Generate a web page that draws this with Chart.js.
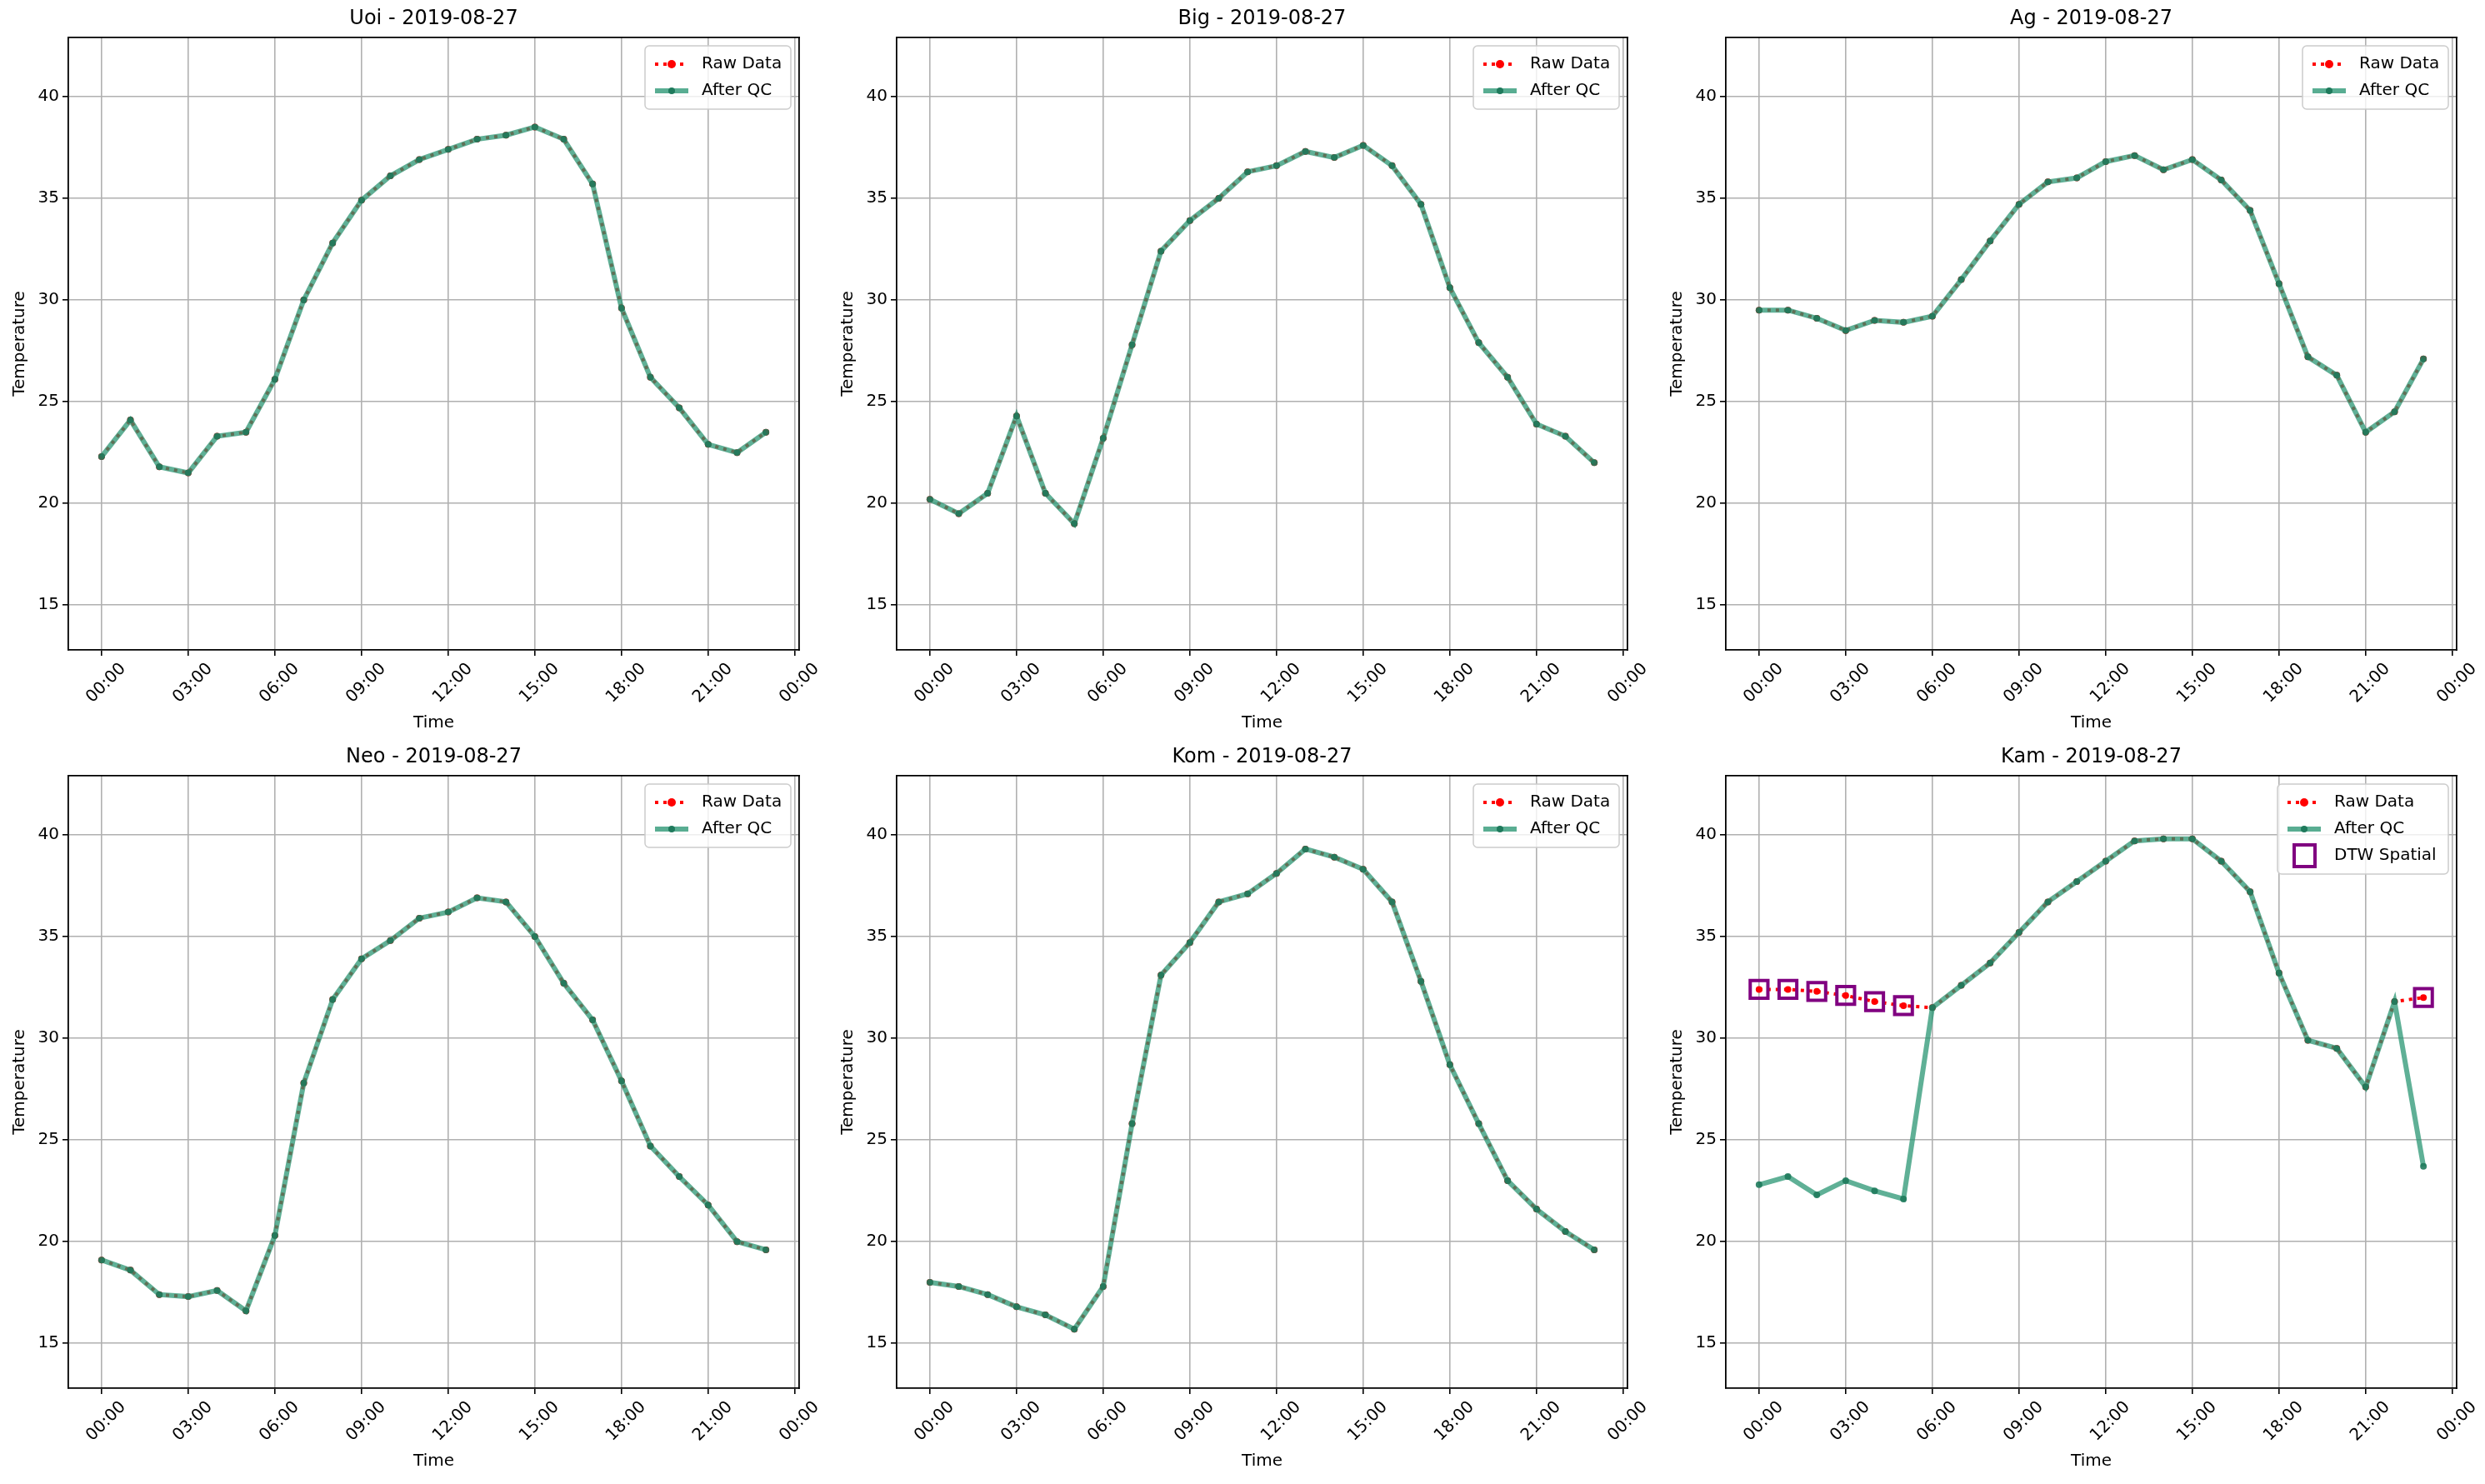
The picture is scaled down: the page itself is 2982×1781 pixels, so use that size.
<!DOCTYPE html>
<html>
<head>
<meta charset="utf-8">
<script src="https://cdn.jsdelivr.net/npm/chart.js@4.4.0/dist/chart.umd.min.js"></script>
<style>
  body { margin: 0; background: #fff; }
  #fig { position: relative; width: 2982px; height: 1781px; }
  .cell { position: absolute; width: 994px; height: 890px; }
</style>
</head>
<body>
<div id="fig"></div>
<script>
const hours = [0,1,2,3,4,5,6,7,8,9,10,11,12,13,14,15,16,17,18,19,20,21,22,23];
const stations = ['Uoi', 'Big', 'Ag', 'Neo', 'Kom', 'Kam'];
const dateLabel = '2019-08-27';
const xTicks = [0,3,6,9,12,15,18,21,24];
const yTicks = [15,20,25,30,35,40];

const uoiRaw = [22.3,24.1,21.8,21.5,23.3,23.5,26.1,30.0,32.8,34.9,36.1,36.9,37.4,37.9,38.1,38.5,37.9,35.7,29.6,26.2,24.7,22.9,22.5,23.5];
const bigRaw = [20.2,19.5,20.5,24.3,20.5,19.0,23.2,27.8,32.4,33.9,35.0,36.3,36.6,37.3,37.0,37.6,36.6,34.7,30.6,27.9,26.2,23.9,23.3,22.0];
const agRaw  = [29.5,29.5,29.1,28.5,29.0,28.9,29.2,31.0,32.9,34.7,35.8,36.0,36.8,37.1,36.4,36.9,35.9,34.4,30.8,27.2,26.3,23.5,24.5,27.1];
const neoRaw = [19.1,18.6,17.4,17.3,17.6,16.6,20.3,27.8,31.9,33.9,34.8,35.9,36.2,36.9,36.7,35.0,32.7,30.9,27.9,24.7,23.2,21.8,20.0,19.6];
const komRaw = [18.0,17.8,17.4,16.8,16.4,15.7,17.8,25.8,33.1,34.7,36.7,37.1,38.1,39.3,38.9,38.3,36.7,32.8,28.7,25.8,23.0,21.6,20.5,19.6];
const kamRaw = [32.4,32.4,32.3,32.1,31.8,31.6,31.5,32.6,33.7,35.2,36.7,37.7,38.7,39.7,39.8,39.8,38.7,37.2,33.2,29.9,29.5,27.6,31.8,32.0];
const kamQc  = [22.8,23.2,22.3,23.0,22.5,22.1,31.5,32.6,33.7,35.2,36.7,37.7,38.7,39.7,39.8,39.8,38.7,37.2,33.2,29.9,29.5,27.6,31.8,23.7];
const kamFlagged = [0,1,2,3,4,5,23];

const rawSeries = [uoiRaw, bigRaw, agRaw, neoRaw, komRaw, kamRaw];
const qcSeries = [uoiRaw, bigRaw, agRaw, neoRaw, komRaw, kamQc];
const flagged = [[], [], [], [], [], kamFlagged];

const cellLeft = [0, 994, 1989];
const cellTop = [0, 886];
const FONT = 'DejaVu Sans';

const pts = arr => arr.map((v, i) => ({ x: hours[i], y: v }));
const fmtHour = v => String(v % 24).padStart(2, '0') + ':00';

// matplotlib-style legend box and title inside the canvas
const mplExtras = {
  id: 'mplExtras',
  afterDraw(chart, args, opts) {
    const c = chart.ctx, a = chart.chartArea;
    c.save();
    c.fillStyle = '#000';
    c.font = '24px ' + FONT;
    c.textAlign = 'center';
    c.textBaseline = 'bottom';
    c.fillText(opts.title, (a.left + a.right) / 2, a.top - 10);

    const items = opts.items;
    const rowH = 32, w = opts.boxW, h = items.length * rowH + 12;
    const x0 = a.right - w - 10, y0 = a.top + 10;
    c.fillStyle = 'rgba(255,255,255,0.8)';
    c.strokeStyle = '#ccc';
    c.lineWidth = 1.5;
    c.beginPath();
    c.roundRect(x0, y0, w, h, 5);
    c.fill(); c.stroke();
    items.forEach((it, i) => {
      const cy = y0 + 6 + rowH * i + rowH / 2;
      const lx = x0 + 12;
      if (it.type === 'raw') {
        c.strokeStyle = 'red'; c.lineWidth = 4; c.setLineDash([4, 6]);
        c.beginPath(); c.moveTo(lx, cy); c.lineTo(lx + 40, cy); c.stroke();
        c.setLineDash([]);
        c.fillStyle = 'red'; c.beginPath(); c.arc(lx + 20, cy, 5, 0, Math.PI * 2); c.fill();
      } else if (it.type === 'qc') {
        c.strokeStyle = 'rgba(42,150,115,0.78)'; c.lineWidth = 6;
        c.beginPath(); c.moveTo(lx, cy); c.lineTo(lx + 40, cy); c.stroke();
        c.fillStyle = '#1f7a5c'; c.beginPath(); c.arc(lx + 20, cy, 4, 0, Math.PI * 2); c.fill();
      } else {
        c.strokeStyle = 'purple'; c.lineWidth = 4;
        c.strokeRect(lx + 8, cy - 13, 25, 26);
      }
      c.fillStyle = '#000';
      c.font = '20px ' + FONT;
      c.textAlign = 'left';
      c.textBaseline = 'middle';
      c.fillText(it.label, lx + 56, cy);
    });
    c.restore();
  }
};

stations.forEach((name, k) => {
  const div = document.createElement('div');
  div.className = 'cell';
  div.style.left = cellLeft[k % 3] + 'px';
  div.style.top = cellTop[Math.floor(k / 3)] + 'px';
  const cv = document.createElement('canvas');
  div.appendChild(cv);
  document.getElementById('fig').appendChild(div);

  const datasets = [
    {
      label: 'Raw Data', data: pts(rawSeries[k]), order: 3,
      borderColor: 'red', borderWidth: 4, borderDash: [4, 6],
      pointRadius: 4, pointBackgroundColor: 'red', pointBorderWidth: 0
    },
    {
      label: 'After QC', data: pts(qcSeries[k]), order: 2,
      borderColor: 'rgba(42,150,115,0.75)', borderWidth: 6,
      pointRadius: 4, pointBackgroundColor: 'rgba(31,122,92,0.9)', pointBorderWidth: 0
    }
  ];
  const items = [{ type: 'raw', label: 'Raw Data' }, { type: 'qc', label: 'After QC' }];
  if (flagged[k].length) {
    datasets.push({
      label: 'DTW Spatial', data: flagged[k].map(i => ({ x: hours[i], y: rawSeries[k][i] })),
      type: 'scatter', order: 1, showLine: false,
      pointStyle: 'rect', pointRadius: 15, pointBorderColor: 'purple', pointBorderWidth: 4,
      pointBackgroundColor: 'rgba(0,0,0,0)'
    });
    items.push({ type: 'dtw', label: 'DTW Spatial' });
  }

  new Chart(cv, {
    type: 'line',
    data: { datasets },
    plugins: [mplExtras],
    options: {
      responsive: true,
      maintainAspectRatio: false,
      animation: false,
      layout: { padding: { top: 45, right: 35, left: 0, bottom: 10 } },
      plugins: {
        legend: { display: false },
        tooltip: { enabled: false },
        mplExtras: { title: name + ' - ' + dateLabel, items, boxW: flagged[k].length ? 205 : 175 }
      },
      scales: {
        x: {
          type: 'linear', min: -1.15, max: 24.15,
          afterBuildTicks: s => { s.ticks = xTicks.map(v => ({ value: v })); },
          afterFit: s => { s.height = 100; },
          ticks: { callback: v => fmtHour(v), maxRotation: 45, minRotation: 45, autoSkip: false,
                   labelOffset: 26,
                   color: '#000', font: { family: FONT, size: 20 }, padding: 4 },
          grid: { color: '#b0b0b0', lineWidth: 1.6, drawTicks: true, tickLength: 7, tickColor: '#000' },
          border: { color: '#000', width: 1.8 },
          title: { display: true, text: 'Time', color: '#000', font: { family: FONT, size: 20 }, padding: 0 }
        },
        y: {
          min: 12.8, max: 42.9,
          afterBuildTicks: s => { s.ticks = yTicks.map(v => ({ value: v })); },
          afterFit: s => { s.width = 82; },
          ticks: { color: '#000', font: { family: FONT, size: 20 }, padding: 4 },
          grid: { color: '#b0b0b0', lineWidth: 1.6, drawTicks: true, tickLength: 7, tickColor: '#000' },
          border: { color: '#000', width: 1.8 },
          title: { display: true, text: 'Temperature', color: '#000', font: { family: FONT, size: 20 }, padding: { top: 12, bottom: 0 } }
        },
        top: { position: 'top', display: true, ticks: { display: false }, grid: { display: false, drawTicks: false }, border: { color: '#000', width: 1.8 }, afterFit: s => { s.height = 0; } },
        right: { position: 'right', display: true, ticks: { display: false }, grid: { display: false, drawTicks: false }, border: { color: '#000', width: 1.8 }, afterFit: s => { s.width = 0; } }
      }
    }
  });
});
</script>
</body>
</html>
